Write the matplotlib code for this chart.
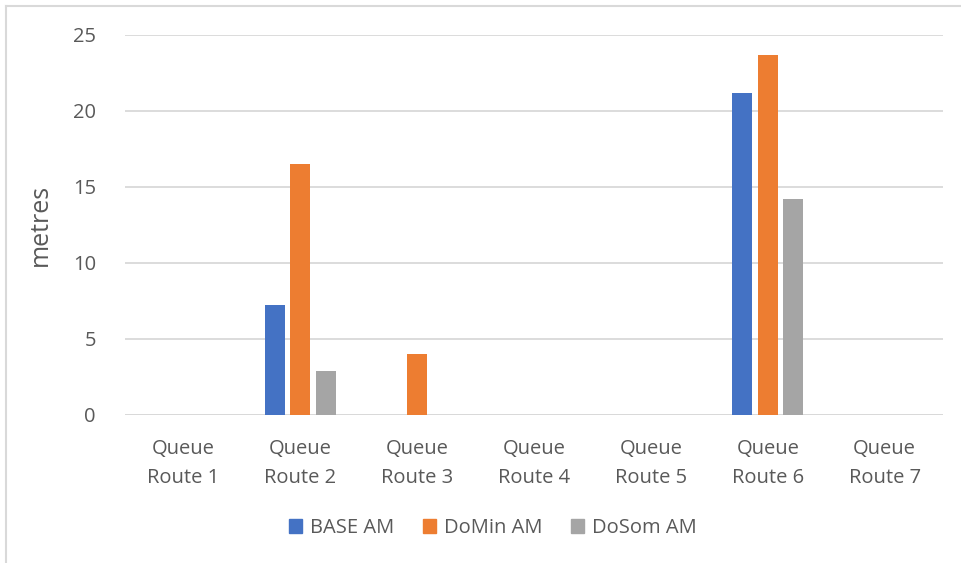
import numpy as np
import matplotlib.pyplot as plt
from matplotlib.lines import Line2D
from matplotlib.patches import Patch

plt.rcParams['font.family'] = ['Open Sans', 'DejaVu Sans']

categories = ['Queue\nRoute 1', 'Queue\nRoute 2', 'Queue\nRoute 3', 'Queue\nRoute 4',
              'Queue\nRoute 5', 'Queue\nRoute 6', 'Queue\nRoute 7']
base_am = [0, 7.25, 0, 0, 0, 21.2, 0]
domin_am = [0, 16.5, 4.0, 0, 0, 23.7, 0]
dosom_am = [0, 2.88, 0, 0, 0, 14.2, 0]
series = [('BASE AM', base_am, '#4472c4'),
          ('DoMin AM', domin_am, '#ed7d31'),
          ('DoSom AM', dosom_am, '#a5a5a5')]

text_col = '#595959'
grid_col = '#d9d9d9'
fs = 14.5

fig = plt.figure(figsize=(9.61, 5.63), dpi=100)
ax = fig.add_axes([125 / 961, 148 / 563, 818 / 961, 380 / 563])

x = np.arange(len(categories))
width = 0.172
step = 0.22
for i, (name, vals, col) in enumerate(series):
    ax.bar(x + (i - 1) * step, vals, width, color=col, label=name, zorder=3)

ax.set_xlim(-0.5, len(categories) - 0.5)
ax.set_ylim(0, 25)
ax.set_yticks(np.arange(0, 26, 5))
ax.grid(True, axis='y', color=grid_col, linewidth=1.3, zorder=0)
for s in ax.spines.values():
    s.set_visible(False)
ax.axhline(0, color=grid_col, linewidth=1.3, zorder=2)

ax.set_xticks(x)
ax.set_xticklabels(categories, fontsize=fs, color=text_col, linespacing=1.65)
ax.tick_params(axis='both', length=0, labelsize=fs, labelcolor=text_col)
ax.tick_params(axis='x', pad=17)
ax.tick_params(axis='y', pad=21)
ax.set_ylabel('metres', fontsize=18, color=text_col, labelpad=14)

handles = [Patch(color=c, label=n) for n, _, c in series]
fig.legend(handles=handles, loc='center', bbox_to_anchor=(493 / 961, 1 - 528 / 563),
           ncol=3, frameon=False, fontsize=fs, handlelength=0.65, handleheight=0.65,
           columnspacing=1.4, handletextpad=0.4, labelcolor=text_col)

# outer chart frame (left and top edges only)
fig.add_artist(Line2D([5.5 / 961, 5.5 / 961], [0, 1 - 5.5 / 563], color=grid_col, linewidth=1.5))
fig.add_artist(Line2D([5.5 / 961, 1], [1 - 5.5 / 563, 1 - 5.5 / 563], color=grid_col, linewidth=1.5))

fig.savefig('out.png', dpi=100, facecolor='white')
